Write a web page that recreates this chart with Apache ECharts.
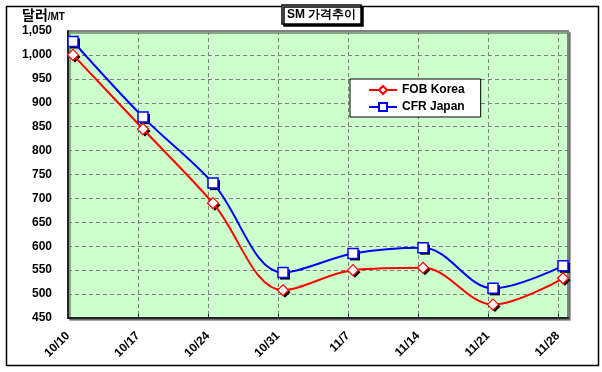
<!DOCTYPE html>
<html><head><meta charset="utf-8">
<script src="https://cdn.jsdelivr.net/npm/echarts@6/dist/echarts.min.js"></script>
<style>html,body{margin:0;padding:0;background:#fff}#c{width:602px;height:372px}</style>
</head><body><div id="c"></div>
<script>
const dateLabels = ['10/10','10/17','10/24','10/31','11/7','11/14','11/21','11/28'];
const fobKorea = [1000, 845, 690, 508, 550, 555, 478, 533];
const cfrJapan = [1028, 870, 732, 545, 585, 597, 512, 559];
const yTicks = {min: 450, max: 1050, interval: 50};
const daysPerWeek = 7;
const pointDayOffset = 0.5; // quotes fall mid-day after the gridline date

const toPairs = arr => arr.map((v, i) => [i * daysPerWeek + pointDayOffset, v]);
const font = 'Arial, "Liberation Sans", sans-serif';

function shadowSeries(name, arr, symbol, size) {
  return {
    name: name + ' shadow', type: 'line', data: toPairs(arr),
    symbol: symbol, symbolSize: size, symbolOffset: [2, 2],
    lineStyle: {opacity: 0}, itemStyle: {color: '#000', borderWidth: 0},
    z: 1, silent: true, legendHoverLink: false
  };
}

const chart = echarts.init(document.getElementById('c'), null, {renderer: 'canvas'});
chart.setOption({
  animation: false,
  backgroundColor: '#fff',
  textStyle: {fontFamily: font},
  title: {
    text: 'SM 가격추이',
    left: 282, top: 5,
    padding: [4, 5, 3, 5],
    borderColor: '#000', borderWidth: 1.5,
    backgroundColor: '#fff',
    shadowColor: '#000', shadowOffsetX: 2, shadowOffsetY: 2, shadowBlur: 0,
    textStyle: {fontSize: 12, fontWeight: 'bold', color: '#000', fontFamily: font}
  },
  legend: {
    orient: 'vertical',
    left: 350, top: 79,
    width: 130,
    padding: [5, 16, 4, 18],
    itemGap: 5,
    itemWidth: 28, itemHeight: 10,
    borderColor: '#000', borderWidth: 1,
    backgroundColor: '#fff',
    textStyle: {fontSize: 12, fontWeight: 'bold', color: '#000', fontFamily: font},
    data: ['FOB Korea', 'CFR Japan']
  },
  grid: {
    left: 68, right: 34, top: 31, bottom: 54,
    show: true, backgroundColor: '#ccffcc',
    borderColor: '#808080', borderWidth: 2,
    shadowColor: 'rgba(0,0,0,0.35)', shadowOffsetX: 2, shadowOffsetY: 2
  },
  xAxis: {
    type: 'value', min: 0, max: 50, interval: daysPerWeek,
    axisLine: {show: true, lineStyle: {color: '#222', width: 2}},
    axisTick: {show: true, length: 4, inside: true, lineStyle: {color: '#222'}},
    splitLine: {show: true, lineStyle: {color: '#808080', type: [4, 3], width: 1}},
    axisLabel: {
      rotate: 45, fontSize: 12, fontWeight: 'bold', color: '#000', margin: 16,
      fontFamily: font,
      formatter: v => dateLabels[Math.round(v / daysPerWeek)] || ''
    }
  },
  yAxis: {
    type: 'value', min: yTicks.min, max: yTicks.max, interval: yTicks.interval,
    axisLine: {show: true, lineStyle: {color: '#222', width: 2}},
    axisTick: {show: false},
    splitLine: {show: true, lineStyle: {color: '#808080', type: [4, 3], width: 1}},
    axisLabel: {
      fontSize: 12, fontWeight: 'bold', color: '#000', margin: 16, fontFamily: font,
      formatter: v => v.toLocaleString('en-US')
    }
  },
  graphic: [
    {type: 'rect', left: 4, top: 4, shape: {width: 592, height: 359},
     style: {fill: 'none', stroke: '#000', lineWidth: 1.5}, silent: true, z: -1},
    {type: 'text', left: 22, top: 8,
     style: {
       text: '{a|달러}{b|/MT}',
       rich: {
         a: {fontSize: 14, fontWeight: 'bold', fill: '#000', fontFamily: '"Noto Sans CJK KR", sans-serif'},
         b: {fontSize: 10, fontWeight: 'bold', fill: '#000', fontFamily: font, padding: [4, 0, 0, 0]}
       }
     }}
  ],
  series: [
    shadowSeries('FOB Korea', fobKorea, 'diamond', 11),
    shadowSeries('CFR Japan', cfrJapan, 'rect', 10),
    {
      name: 'FOB Korea', type: 'line', smooth: 0.35,
      data: toPairs(fobKorea),
      symbol: 'diamond', symbolSize: 11, showSymbol: true, z: 3,
      lineStyle: {color: '#ff0000', width: 2},
      itemStyle: {color: '#fff', borderColor: '#ff0000', borderWidth: 1.2}
    },
    {
      name: 'CFR Japan', type: 'line', smooth: 0.35,
      data: toPairs(cfrJapan),
      symbol: 'rect', symbolSize: 10, showSymbol: true, z: 3,
      lineStyle: {color: '#0000ff', width: 2},
      itemStyle: {color: '#fff', borderColor: '#0000ff', borderWidth: 1.5}
    }
  ]
});
</script></body></html>
